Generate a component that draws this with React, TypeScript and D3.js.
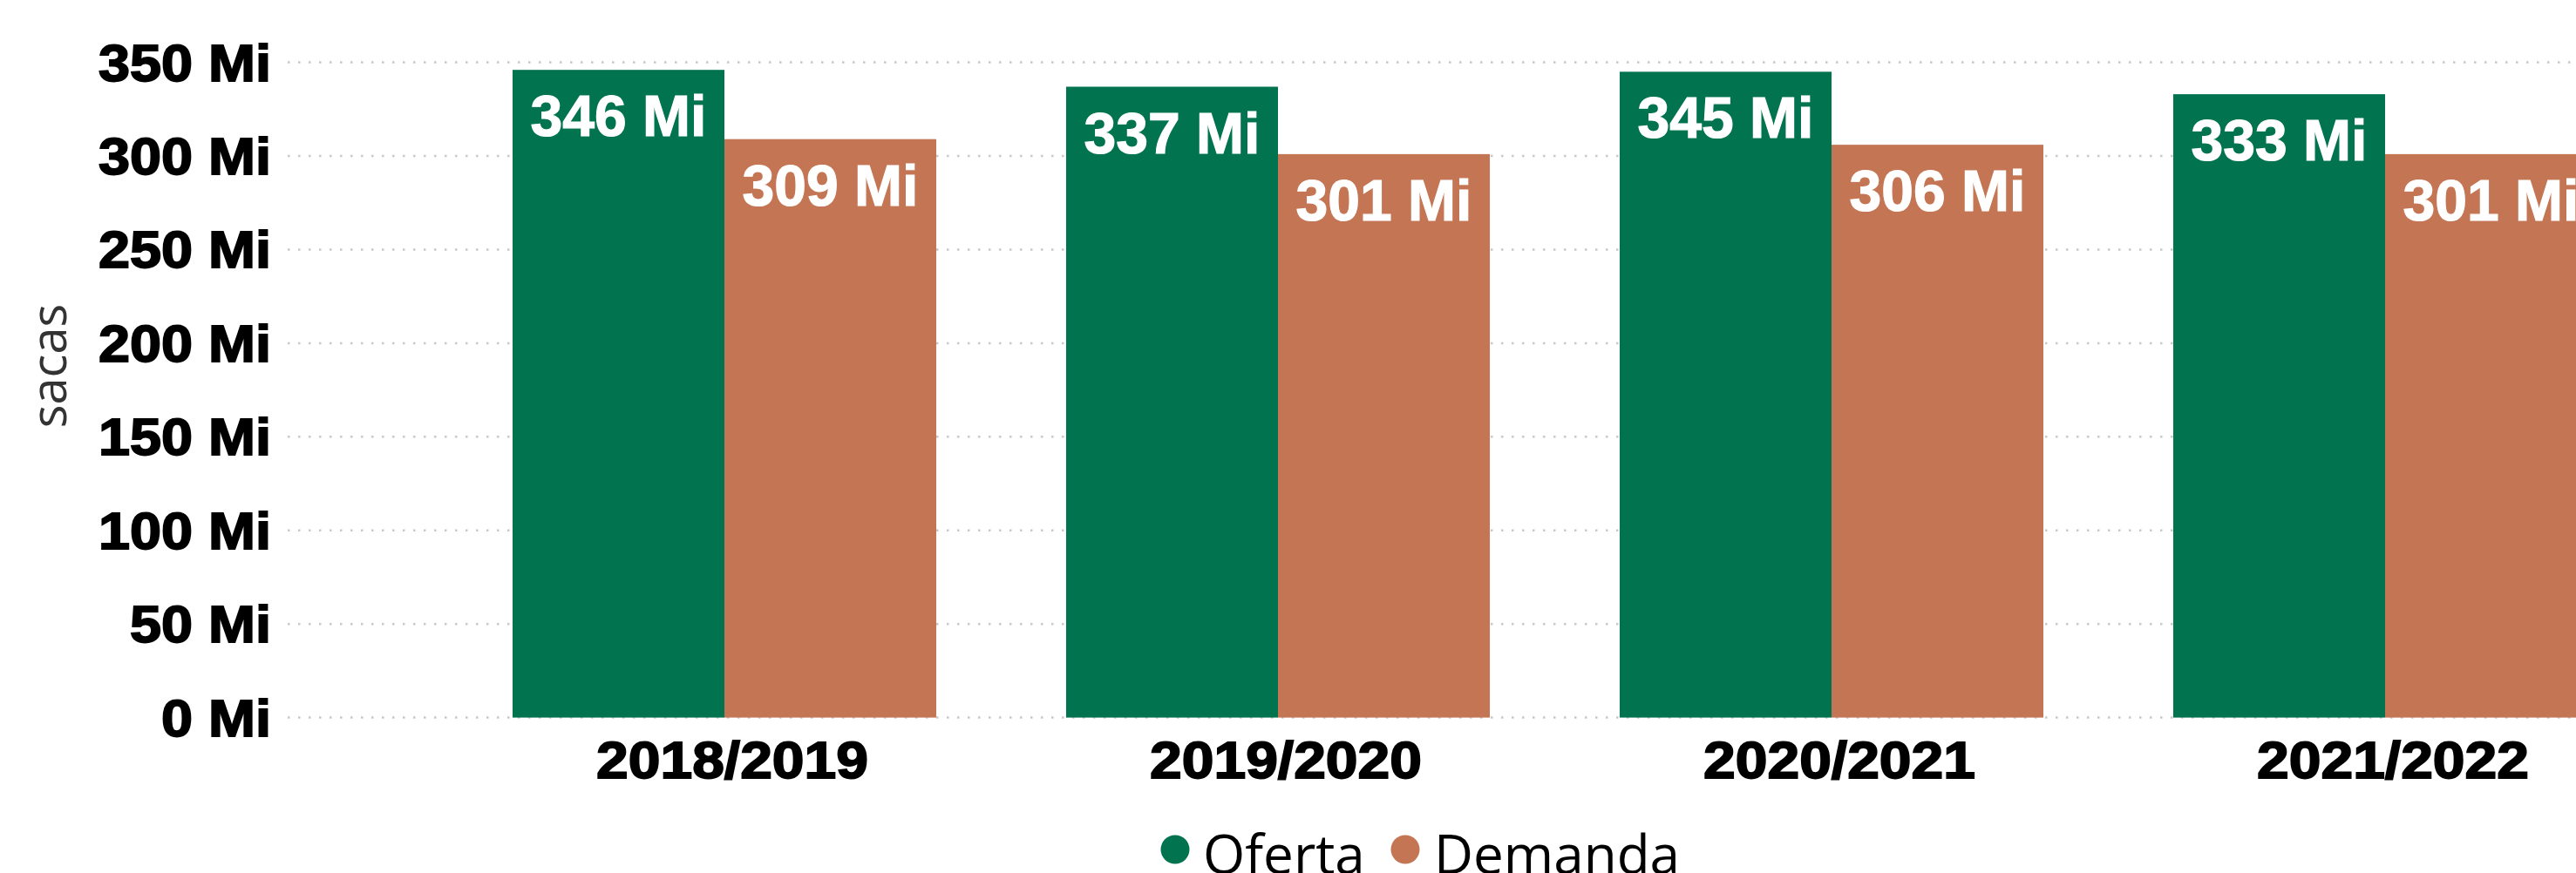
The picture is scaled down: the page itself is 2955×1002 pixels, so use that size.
import { useEffect } from "react"
import * as d3 from "d3"

const categories = ["2018/2019", "2019/2020", "2020/2021", "2021/2022"]
const seriesNames = ["Oferta", "Demanda"]
const oferta = [346, 337, 345, 333]
const demanda = [309, 301, 306, 301]
const yTicks = [0, 50, 100, 150, 200, 250, 300, 350]

const colors: Record<string, string> = { Oferta: "#02734f", Demanda: "#c47553" }

const width = 2955
const height = 1002

export default function App() {
  useEffect(() => {
    document.body.style.margin = "0"
  }, [])

  // Scales
  const x0 = d3.scaleBand<string>()
    .domain(categories)
    .range([513.5, 3053.5])
    .paddingInner(0.2346)
    .paddingOuter(0.1173)

  const x1 = d3.scaleBand<string>()
    .domain(seriesNames)
    .range([0, x0.bandwidth()])

  const y = d3.scaleLinear().domain([0, 350]).range([823.6, 71.6])

  const rows = categories.map((c, i) => ({
    category: c,
    values: [
      { key: "Oferta", value: oferta[i] },
      { key: "Demanda", value: demanda[i] },
    ],
  }))

  const axisFont = "'Liberation Sans', Arial, sans-serif"
  const uiFont = "'Open Sans', 'Noto Sans', sans-serif"

  return (
    <svg width={width} height={height} style={{ display: "block" }}>
      <rect width={width} height={height} fill="#fff" />

      {/* Grid */}
      {yTicks.map(t => (
        <line
          key={t}
          x1={330}
          x2={width}
          y1={y(t)}
          y2={y(t)}
          stroke="#c8c8c8"
          strokeWidth={2.5}
          strokeDasharray="2.5,9.5"
        />
      ))}

      {/* Y tick labels */}
      {yTicks.map(t => (
        <text
          key={t}
          transform={`translate(311, ${y(t) + 21}) scale(1.08, 1)`}
          textAnchor="end"
          fontFamily={axisFont}
          fontWeight="bold"
          fontSize={60}
          fill="#000"
          stroke="#000"
          strokeWidth={1.8}
        >
          {`${t} Mi`}
        </text>
      ))}

      {/* Y axis title */}
      <text
        transform="translate(76, 420) rotate(-90)"
        textAnchor="middle"
        fontFamily={uiFont}
        fontSize={56}
        fill="#333"
      >
        sacas
      </text>

      {/* Bars */}
      {rows.map(r => (
        <g key={r.category} transform={`translate(${x0(r.category)}, 0)`}>
          {r.values.map(v => (
            <rect
              key={v.key}
              x={x1(v.key)}
              y={y(v.value)}
              width={x1.bandwidth()}
              height={y(0) - y(v.value)}
              fill={colors[v.key]}
            />
          ))}
          {r.values.map(v => (
            <text
              key={v.key + "-lbl"}
              x={(x1(v.key) ?? 0) + x1.bandwidth() / 2}
              y={y(v.value) + 76}
              textAnchor="middle"
              fontFamily={axisFont}
              fontWeight="bold"
              fontSize={66}
              fill="#fff"
              stroke="#fff"
              strokeWidth={1.2}
            >
              {`${v.value} Mi`}
            </text>
          ))}
        </g>
      ))}

      {/* X tick labels */}
      {categories.map(c => (
        <text
          key={c}
          transform={`translate(${(x0(c) ?? 0) + x0.bandwidth() / 2 + 9}, 893) scale(1.1, 1)`}
          textAnchor="middle"
          fontFamily={axisFont}
          fontWeight="bold"
          fontSize={60}
          fill="#000"
          stroke="#000"
          strokeWidth={1.8}
        >
          {c}
        </text>
      ))}

      {/* Legend */}
      <g>
        <circle cx={1348} cy={975} r={16.5} fill={colors.Oferta} />
        <text x={1380} y={1003} fontFamily={uiFont} fontSize={62} fill="#000">Oferta</text>
        <circle cx={1612} cy={975} r={16.5} fill={colors.Demanda} />
        <text x={1645} y={1003} fontFamily={uiFont} fontSize={62} fill="#000">Demanda</text>
      </g>
    </svg>
  )
}
